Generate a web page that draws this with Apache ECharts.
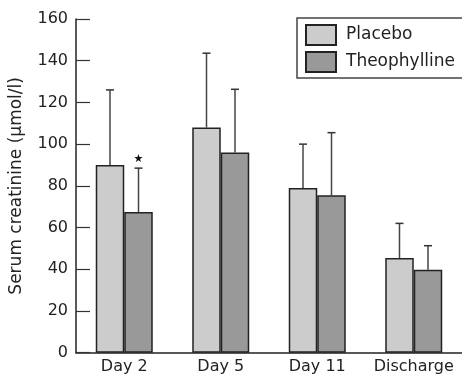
<!DOCTYPE html>
<html><head><meta charset="utf-8">
<script src="https://cdn.jsdelivr.net/npm/echarts@6/dist/echarts.min.js"></script>
<style>html,body{margin:0;padding:0;background:#fff}#c{width:462px;height:379px}</style>
</head><body><div id="c"></div>
<script>
const categories = ['Day 2', 'Day 5', 'Day 11', 'Discharge'];
const placebo = [90, 108, 79, 45.4];
const placeboSD = [36, 35.6, 21, 16.6];
const theophylline = [67.5, 96, 75.5, 39.8];
const theophyllineSD = [21, 30.3, 30, 11.5];
const significance = ['★', '', '', ''];
const yTicks = [0, 20, 40, 60, 80, 100, 120, 140, 160];

const FONT = '"DejaVu Sans"';
const BW = 28.5;
const chart = echarts.init(document.getElementById('c'), null, {renderer: 'canvas'});

function errRender(vals, sds, offset, marks) {
  return function (params, api) {
    const i = api.value(0);
    const top = vals[i] + sds[i];
    const p0 = api.coord([i, vals[i]]);
    const p1 = api.coord([i, top]);
    const x = p0[0] + offset;
    const children = [
      {type: 'line', shape: {x1: x, y1: p0[1], x2: x, y2: p1[1]}, style: {stroke: '#444', lineWidth: 1.5}},
      {type: 'line', shape: {x1: x - 4, y1: p1[1], x2: x + 4, y2: p1[1]}, style: {stroke: '#333', lineWidth: 1.5}}
    ];
    if (marks && marks[i]) {
      children.push({type: 'text', style: {text: marks[i], x: x, y: p1[1] - 9, fill: '#111', font: '11px "DejaVu Sans"', align: 'center', verticalAlign: 'middle'}});
    }
    return {type: 'group', children: children};
  };
}

chart.setOption({
  animation: false,
  backgroundColor: '#fff',
  grid: {left: 75, right: -3, top: 19, bottom: 26.3},
  legend: {
    left: 297, top: 18,
    orient: 'vertical',
    data: ['Placebo', 'Theophylline'],
    itemWidth: 30, itemHeight: 20, itemGap: 5,
    padding: [6, 20, 5, 8],
    borderColor: '#444', borderWidth: 1.5,
    icon: 'rect',
    textStyle: {fontFamily: FONT, fontSize: 17, color: '#222', padding: [0, 0, 0, 5]}
  },
  xAxis: {
    type: 'category', data: categories,
    axisLine: {lineStyle: {color: '#222', width: 1.5}},
    axisTick: {inside: true, length: 15, interval: 0, lineStyle: {color: '#222', width: 1.2}},
    axisLabel: {fontFamily: FONT, fontSize: 16, color: '#222', margin: 6, interval: 0}
  },
  yAxis: {
    type: 'value', min: 0, max: 160, interval: 20,
    name: 'Serum creatinine (µmol/l)', nameLocation: 'middle', nameGap: 51,
    nameTextStyle: {fontFamily: FONT, fontSize: 17, color: '#222'},
    axisLine: {show: true, lineStyle: {color: '#222', width: 1.5}},
    axisTick: {show: true, inside: true, length: 14, lineStyle: {color: '#333', width: 1.2}},
    axisLabel: {fontFamily: FONT, fontSize: 16, color: '#222', margin: 8,
      formatter: v => yTicks.includes(v) ? String(v) : ''},
    splitLine: {show: false}
  },
  series: [
    {name: 'Placebo', type: 'bar', data: placebo, barWidth: BW, barGap: '0%',
     itemStyle: {color: '#cccccc', borderColor: '#222', borderWidth: 1.5}},
    {name: 'Theophylline', type: 'bar', data: theophylline, barWidth: BW, barGap: '0%',
     itemStyle: {color: '#999999', borderColor: '#222', borderWidth: 1.5}},
    {type: 'custom', data: categories.map((c, i) => [i]), renderItem: errRender(placebo, placeboSD, -BW / 2), z: 1},
    {type: 'custom', data: categories.map((c, i) => [i]), renderItem: errRender(theophylline, theophyllineSD, BW / 2, significance), z: 1}
  ]
});
</script></body></html>
